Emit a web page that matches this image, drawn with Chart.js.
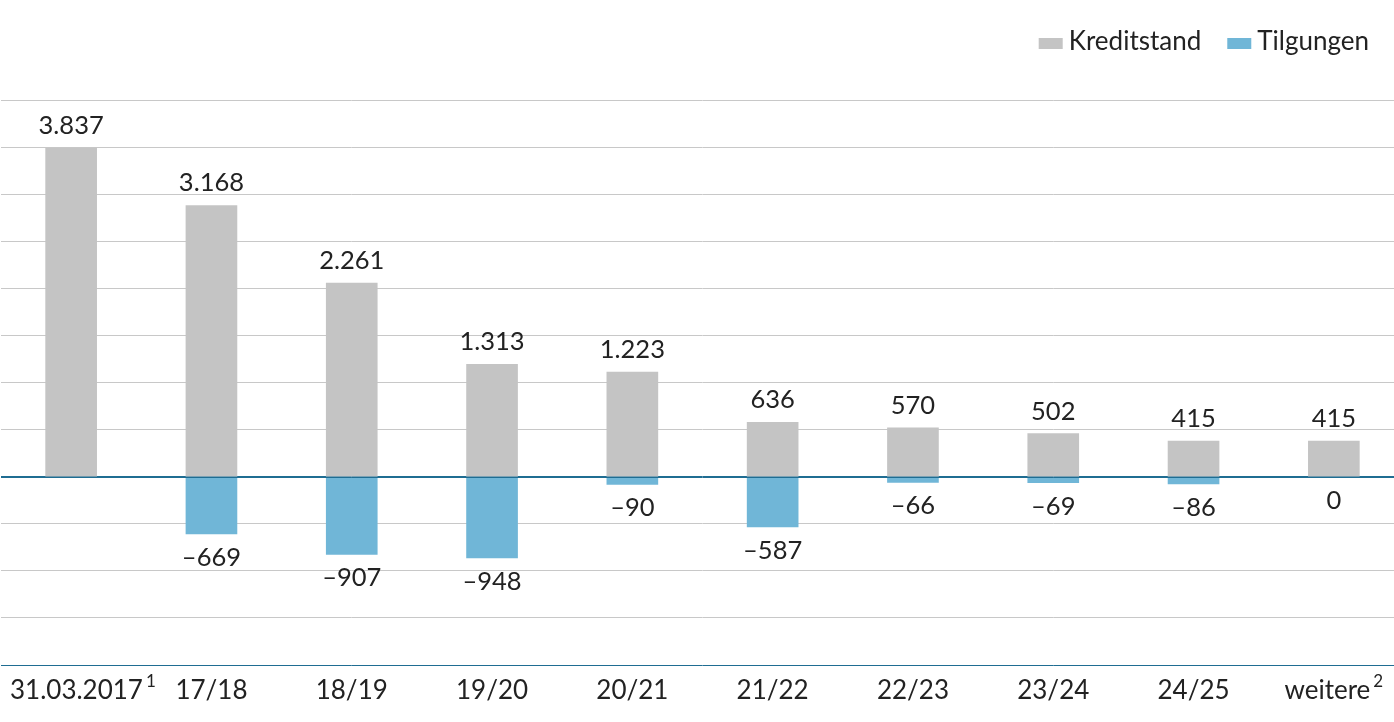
<!DOCTYPE html>
<html>
<head>
<meta charset="utf-8">
<script src="https://cdn.jsdelivr.net/npm/chart.js@4/dist/chart.umd.min.js"></script>
<style>
html,body{margin:0;padding:0;background:#fff;overflow:hidden;}
#wrap{width:1404px;height:722px;}
</style>
</head>
<body>
<div id="wrap"><canvas id="c" width="1404" height="722"></canvas></div>
<script>
const categories = ['31.03.2017','17/18','18/19','19/20','20/21','21/22','22/23','23/24','24/25','weitere'];
const footnotes  = ['1','','','','','','','','','2'];
const kreditstand = [3837,3168,2261,1313,1223,636,570,502,415,415];
const tilgungen   = [null,-669,-907,-948,-90,-587,-66,-69,-86,0];
const seriesNames = ['Kreditstand','Tilgungen'];
const seriesColors = ['#c4c4c4','#70b6d7'];
const yMin = -2200, yMax = 4400, yStep = 550;

const FONT = 'Lato, "Open Sans", sans-serif';
const TEXT = '#222222';
const AXIS = '#1f6d92';

function fmt(v){
  const s = Math.abs(v).toString().replace(/\B(?=(\d{3})+(?!\d))/g,'.');
  return (v<0?'\u2013':'') + s;
}

const labelPlugin = {
  id:'labels',
  afterDatasetsDraw(chart){
    const ctx = chart.ctx;
    const y = chart.scales.y, x = chart.scales.x;
    const area = chart.chartArea;
    ctx.save();
    // zero line on top of bars
    const y0 = Math.round(y.getPixelForValue(0)) + 0.5;
    ctx.strokeStyle = AXIS; ctx.lineWidth = 1;
    ctx.beginPath(); ctx.moveTo(area.left, y0); ctx.lineTo(area.right, y0); ctx.stroke();

    ctx.fillStyle = TEXT;
    ctx.font = '25.5px ' + FONT;
    ctx.textAlign = 'center';
    ctx.textBaseline = 'alphabetic';
    const m0 = chart.getDatasetMeta(0), m1 = chart.getDatasetMeta(1);
    m0.data.forEach((bar,i)=>{
      const v = kreditstand[i];
      if (v === null) return;
      ctx.fillText(fmt(v), bar.x, bar.y - 14);
    });
    m1.data.forEach((bar,i)=>{
      const v = tilgungen[i];
      if (v === null || v === undefined) return;
      const bottom = y.getPixelForValue(Math.min(v, 0));
      ctx.fillText(fmt(v), bar.x, bottom + 32);
    });

    // category labels with footnote superscripts
    const mainFont = '26px ' + FONT, supFont = '17px ' + FONT;
    categories.forEach((c,i)=>{
      const cx = x.getPixelForValue(i);
      ctx.font = mainFont;
      const w1 = ctx.measureText(c).width;
      let w2 = 0, gap = 0;
      if (footnotes[i]) { ctx.font = supFont; w2 = ctx.measureText(footnotes[i]).width; gap = 3; }
      const total = w1 + gap + w2;
      let left = cx - total/2;
      if (left < 10) left = 10;
      if (left + total > 1388) left = 1388 - total;
      ctx.textAlign = 'left';
      ctx.font = mainFont;
      ctx.fillText(c, left, 699);
      if (footnotes[i]) { ctx.font = supFont; ctx.fillText(footnotes[i], left + w1 + gap, 687); }
    });

    // legend
    ctx.font = '26px ' + FONT;
    let rx = 1369;
    for (let k = seriesNames.length - 1; k >= 0; k--) {
      const tw = ctx.measureText(seriesNames[k]).width;
      const tx = rx - tw;
      ctx.fillStyle = TEXT; ctx.textAlign='left';
      ctx.fillText(seriesNames[k], tx, 50);
      ctx.fillStyle = seriesColors[k];
      ctx.fillRect(tx - 30, 38, 24, 11);
      rx = tx - 30 - 26;
    }
    ctx.restore();
  }
};

new Chart(document.getElementById('c'), {
  type:'bar',
  data:{
    labels: categories,
    datasets:[
      {label:seriesNames[0], data:kreditstand, backgroundColor:seriesColors[0], barThickness:51, borderWidth:0},
      {label:seriesNames[1], data:tilgungen, barThickness:51, borderWidth:0,
       backgroundColor:(c)=> (c.raw === 0 ? 'rgba(0,0,0,0)' : seriesColors[1])}
    ]
  },
  options:{
    responsive:false,
    animation:false,
    devicePixelRatio:1,
    layout:{padding:{left:1,right:0,top:100,bottom:57}},
    plugins:{legend:{display:false}, tooltip:{enabled:false}},
    scales:{
      x:{display:false, stacked:true},
      y:{
        stacked:true, min:yMin, max:yMax,
        ticks:{display:false, stepSize:yStep},
        border:{display:false},
        grid:{drawTicks:false, color:(c)=> (c.tick && (c.tick.value===0 || c.tick.value===yMin)) ? AXIS : '#c8c8c8', lineWidth:1}
      }
    }
  },
  plugins:[labelPlugin]
});
</script>
</body>
</html>
